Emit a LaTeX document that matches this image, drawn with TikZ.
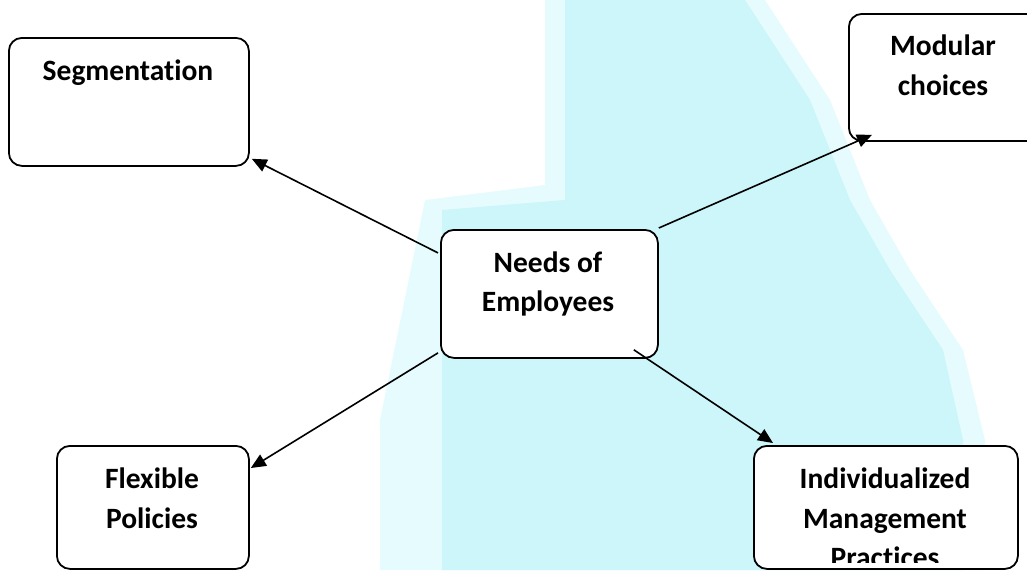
\documentclass[tikz,border=0pt]{standalone}
\usepackage{fontspec}
\setmainfont{Carlito}[Ligatures=NoCommon]
\usetikzlibrary{arrows.meta,calc}
\definecolor{wmcyan}{RGB}{204,246,250}
\definecolor{wmpale}{RGB}{230,251,253}
\tikzset{
  box/.style={draw=black, line width=1.8pt, rounded corners=13pt, fill=white, inner sep=0pt, anchor=north west},
  txt/.style={font=\fontsize{29.5}{39}\selectfont\bfseries, anchor=base, inner sep=0pt},
  link/.style={line width=1.6pt, -{Triangle[length=15pt,width=13pt]}}
}
\begin{document}
\begin{tikzpicture}[x=1pt,y=-1pt]
\useasboundingbox (0,0) rectangle (1027,570);
\clip (0,0) rectangle (1027,570);
% watermark background
\fill[wmpale] (545,0) -- (765,0) -- (830,100) -- (870,200) -- (910,270) -- (963,350) -- (985,440) -- (985,570) -- (380,570) -- (380,420) -- (425,200) -- (545,185) -- cycle;
\fill[wmcyan] (565,0) -- (745,0) -- (810,100) -- (850,200) -- (890,270) -- (943,350) -- (963,440) -- (963,570) -- (442,570) -- (442,210) -- (565,200) -- cycle;
% boxes
\node[box, minimum width=240pt, minimum height=128pt] (seg) at (8,37) {};
\node[box, minimum width=200pt, minimum height=127pt] (mod) at (848,13) {};
\node[box, minimum width=217pt, minimum height=128pt] (need) at (440,229) {};
\node[box, minimum width=192pt, minimum height=123pt] (flex) at (56,445) {};
\node[box, minimum width=264pt, minimum height=123pt] (ind) at (753,445) {};
% texts
\node[txt] (segT) at (128,80) {Segmentation};
\node[txt] (modT1) at (943,55) {Modular};
\node[txt] (modT2) at (943,95) {choices};
\node[txt] (needT1) at (548,272) {Needs of};
\node[txt] (needT2) at (548,311) {Employees};
\node[txt] (flexT1) at (152,488) {Flexible};
\node[txt] (flexT2) at (152,528) {Policies};
\node[txt] (indT1) at (885,488) {Individualized};
\node[txt] (indT2) at (885,528) {Management};
\begin{scope}
\clip (753,445) rectangle (1017,562);
\node[txt] (indT3) at (885,567) {Practices};
\end{scope}
% connectors
\draw[link] ($(need.west)+(-2,-41)$) -- ($(seg.south east)+(2,-8)$);
\draw[link] ($(need.north east)+(0,-1)$) -- ($(mod.south west)+(24,-7)$);
\draw[link] ($(need.west)+(-2,59)$) -- ($(flex.north east)+(1,23)$);
\draw[link] ($(need.south east)+(-25,-9)$) -- ($(ind.north west)+(20,-2)$);
\end{tikzpicture}
\end{document}
